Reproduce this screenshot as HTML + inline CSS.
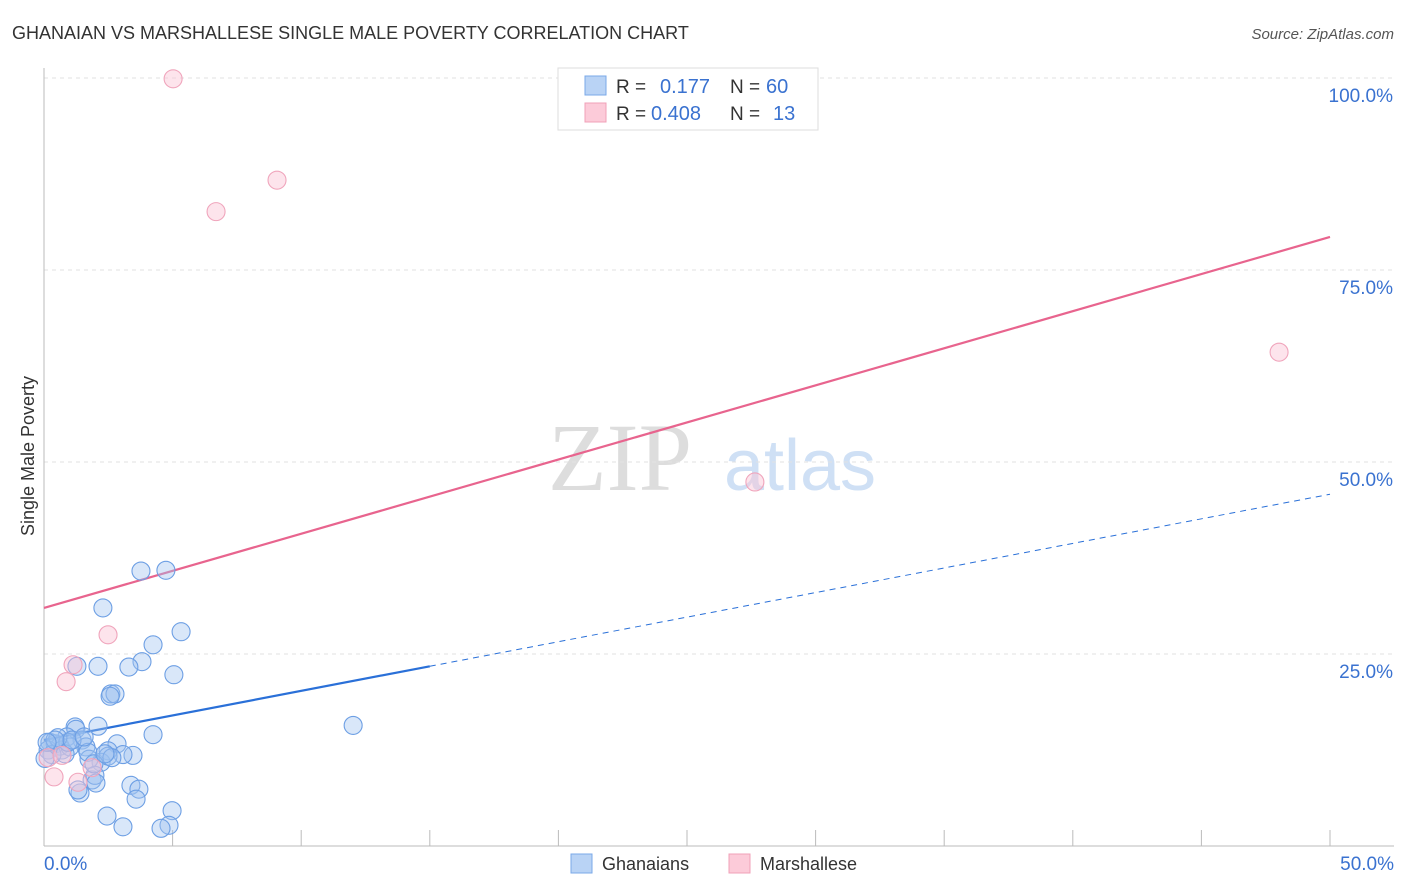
<!DOCTYPE html>
<html><head><meta charset="utf-8"><style>
body{margin:0;background:#fff;font-family:"Liberation Sans",sans-serif;}
svg{display:block}
</style></head><body>
<svg id="chart" width="1406" height="892" xmlns="http://www.w3.org/2000/svg">
<text x="12" y="39" font-size="18" fill="#333">GHANAIAN VS MARSHALLESE SINGLE MALE POVERTY CORRELATION CHART</text>
<text x="1394" y="39" font-size="15" fill="#555" font-style="italic" text-anchor="end">Source: ZipAtlas.com</text>
<text x="34" y="456" font-size="18" fill="#333" text-anchor="middle" transform="rotate(-90 34 456)">Single Male Poverty</text>
<text x="620" y="490" font-size="96" fill="#ddd" font-family="Liberation Serif,serif" text-anchor="middle">ZIP</text>
<text x="800" y="490" font-size="72" fill="#cfe0f5" text-anchor="middle">atlas</text>
<g id="grid"></g><g id="axes"></g><g id="lines"></g><g id="pts"></g>
<g>
<rect x="558" y="68" width="260" height="62" fill="#fff" stroke="#ddd"/>
<rect x="585" y="76" width="21" height="19" fill="#b9d3f5" stroke="#7aa8e8"/>
<rect x="585" y="103" width="21" height="19" fill="#fccbd9" stroke="#f0a0b8"/>
<text x="616" y="93" font-size="19" fill="#333">R = </text><text x="660" y="93" font-size="20" fill="#3a72d0">0.177</text>
<text x="730" y="93" font-size="19" fill="#333">N = </text><text x="766" y="93" font-size="20" fill="#3a72d0">60</text>
<text x="616" y="120" font-size="19" fill="#333">R = </text><text x="651" y="120" font-size="20" fill="#3a72d0">0.408</text>
<text x="730" y="120" font-size="19" fill="#333">N = </text><text x="773" y="120" font-size="20" fill="#3a72d0">13</text>
</g>
<g>
<rect x="571" y="854" width="21" height="19" fill="#b9d3f5" stroke="#7aa8e8"/>
<text x="602" y="870" font-size="18" fill="#333">Ghanaians</text>
<rect x="729" y="854" width="21" height="19" fill="#fccbd9" stroke="#f0a0b8"/>
<text x="760" y="870" font-size="18" fill="#333">Marshallese</text>
</g>
</svg>
<script>
const yTicks=[25,50,75,100];
const xTickLabels=["0.0%","50.0%"];
const blueX=[3.77,4.74,2.29,5.33,4.24,3.81,1.28,2.10,3.30,5.05,2.60,2.76,2.57,2.10,1.21,1.24,0.89,1.48,2.84,1.63,3.46,2.49,2.22,1.75,3.07,4.24,0.23,0.43,0.62,0.16,0.70,1.01,0.31,0.82,0.93,0.54,1.71,2.49,2.64,1.87,1.98,2.02,3.38,3.69,3.58,1.40,1.32,2.45,3.07,4.98,4.86,4.55,12.02,0.04,0.43,1.09,1.56,1.94,2.37,0.12];
const blueY=[35.8,35.9,31.0,27.9,26.2,24.0,23.4,23.4,23.3,22.3,19.8,19.8,19.5,15.6,15.5,15.2,14.2,13.8,13.3,12.9,11.8,12.4,10.9,11.3,11.9,14.5,13.5,13.3,13.0,12.5,12.5,12.9,11.9,12.0,13.5,14.1,12.2,11.7,11.5,8.6,9.2,8.2,7.9,7.4,6.1,6.9,7.3,3.9,2.5,4.6,2.7,2.3,15.7,11.4,13.8,13.8,14.2,10.7,12.0,13.5];
const pinkX=[5.02,9.06,6.69,48.02,27.64,2.49,1.13,0.86,0.39,1.32,1.87,0.16,0.70];
const pinkY=[99.9,86.7,82.6,64.3,47.4,27.5,23.6,21.4,9.0,8.3,10.2,11.5,11.8];
const blueFit=[13.8,45.8], pinkFit=[31.0,79.3];
const X=v=>44+v/50*1286, Y=v=>846-v*7.68;
const NS="http://www.w3.org/2000/svg";
function mk(t,a,p){const e=document.createElementNS(NS,t);for(const k in a)e.setAttribute(k,a[k]);document.getElementById(p).appendChild(e);return e;}
yTicks.forEach(t=>{
 const l=mk('line',{x1:44,x2:1394,y1:Y(t),y2:Y(t),stroke:'#e2e2e2','stroke-dasharray':'4,4'},'grid');
 
 
 const tx=mk('text',{x:1393,y:Y(t)+24,'font-size':19,fill:'#3a72d0','text-anchor':'end'},'grid');
 tx.textContent=t.toFixed(1)+'%';
 
 
});
mk('line',{x1:44,x2:44,y1:68,y2:846,stroke:'#bbb'},'axes');
mk('line',{x1:44,x2:1394,y1:846,y2:846,stroke:'#bbb'},'axes');
for(let i=0;i<=10;i++){const l=mk('line',{x1:X(i*5),x2:X(i*5),y1:830,y2:846,stroke:'#bbb'},'axes');
 
 }
[[0,'start',44],[50,'end',1394]].forEach((d,i)=>{const t=mk('text',{x:d[2],y:870,'font-size':19,fill:'#3a72d0','text-anchor':d[1]},'axes');t.textContent=xTickLabels[i];
 
 });
const fy=(f,x)=>f[0]+(f[1]-f[0])*x/50;
let l=mk('line',{x1:X(0),y1:Y(fy(pinkFit,0)),x2:X(50),y2:Y(fy(pinkFit,50)),stroke:'#e8648e','stroke-width':2.2},'lines');


l=mk('line',{x1:X(0),y1:Y(fy(blueFit,0)),x2:X(15),y2:Y(fy(blueFit,15)),stroke:'#2a70d8','stroke-width':2.2},'lines');


l=mk('line',{x1:X(15),y1:Y(fy(blueFit,15)),x2:X(50),y2:Y(fy(blueFit,50)),stroke:'#2a70d8','stroke-width':1,'stroke-dasharray':'6,5'},'lines');


blueX.forEach((x,i)=>{const c=mk('circle',{cx:X(x),cy:Y(blueY[i]),r:9,fill:'rgba(160,195,240,0.4)',stroke:'#6d9fe4','stroke-width':1.1},'pts');
 
 });
pinkX.forEach((x,i)=>{const c=mk('circle',{cx:X(x),cy:Y(pinkY[i]),r:9,fill:'rgba(250,195,212,0.45)',stroke:'#f0a5bc','stroke-width':1.1},'pts');
 
 });
</script>
</body></html>
